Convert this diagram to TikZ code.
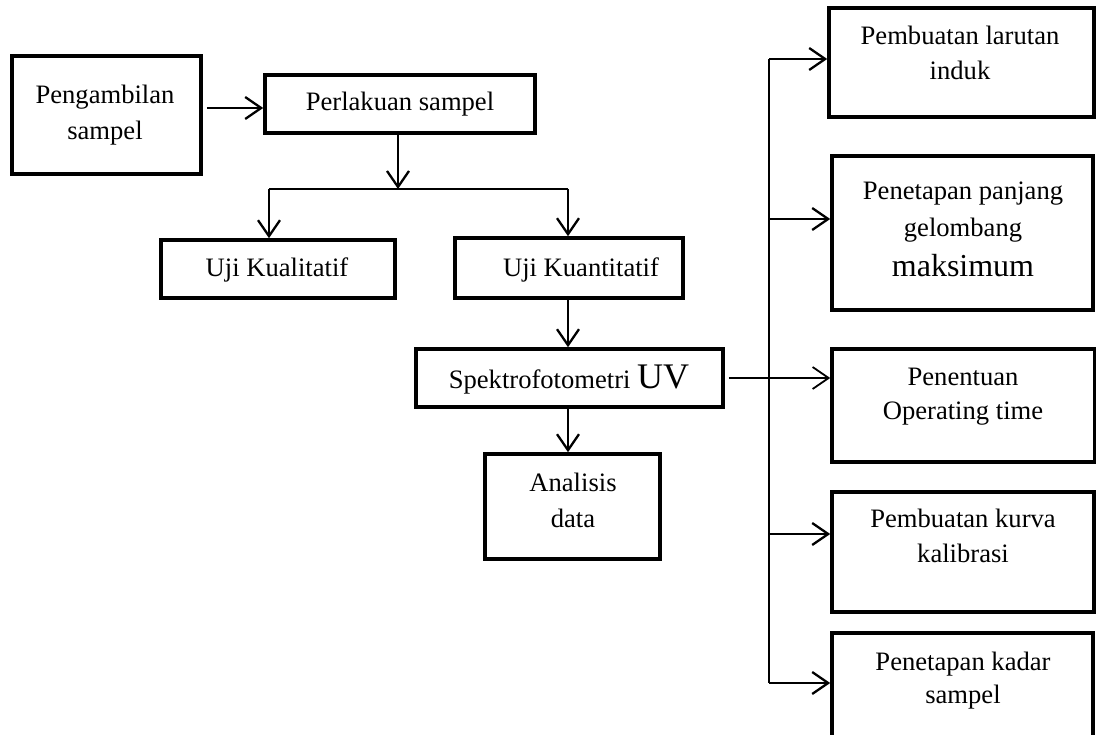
\documentclass[tikz,border=0pt]{standalone}
\usepackage{fontspec}
\setmainfont{Liberation Serif}
\usetikzlibrary{arrows.meta}
\begin{document}
\begin{tikzpicture}[x=1pt,y=-1pt,
  box/.style={draw, line width=3.6pt, inner sep=0pt},
  txt/.style={anchor=base, inner sep=0pt, font=\fontsize{26.6}{36}\selectfont},
  conn/.style={line width=2.3pt},
  arr/.style={line width=2.3pt, -{Straight Barb[length=16pt,width=22pt]}}]
\useasboundingbox (0,0) rectangle (1096,735);
\clip (0,0) rectangle (1096,735);
% boxes
\node[box, minimum width=189pt, minimum height=118pt] (peng) at (106.5,115) {};
\node[box, minimum width=270pt, minimum height=58pt] (perl) at (400,104) {};
\node[box, minimum width=234pt, minimum height=58pt] (kual) at (278,269) {};
\node[box, minimum width=228pt, minimum height=60pt] (kuan) at (569,268) {};
\node[box, minimum width=307pt, minimum height=58pt] (spek) at (569.5,378) {};
\node[box, minimum width=175pt, minimum height=105pt] (anal) at (572.5,506.5) {};
\node[box, minimum width=265pt, minimum height=109pt] (b1) at (961.5,62.5) {};
\node[box, minimum width=261pt, minimum height=154pt] (b2) at (962.5,233) {};
\node[box, minimum width=263pt, minimum height=113pt] (b3) at (963.5,405.5) {};
\node[box, minimum width=262pt, minimum height=120pt] (b4) at (963,552) {};
\node[box, minimum width=261pt, minimum height=122pt] (b5) at (962.5,694) {};
% texts
\node[txt] (t1a) at (105,104) {Pengambilan};
\node[txt] (t1b) at (105,140) {sampel};
\node[txt] (t2) at (400,111) {Perlakuan sampel};
\node[txt] (t3) at (277,277) {Uji Kualitatif};
\node[txt] (t4) at (581,277) {Uji Kuantitatif};
\node[txt] (t5) at (569,389) {Spektrofotometri {\fontsize{36}{36}\selectfont UV}};
\node[txt] (t6a) at (573,491) {Analisis};
\node[txt] (t6b) at (573,527) {data};
\node[txt] (t7a) at (960,45) {Pembuatan larutan};
\node[txt] (t7b) at (960,80) {induk};
\node[txt] (t8a) at (963,200) {Penetapan panjang};
\node[txt] (t8b) at (963,237) {gelombang};
\node[txt] (t8c) at (963,277) {\fontsize{32}{36}\selectfont maksimum};
\node[txt] (t9a) at (963,386) {Penentuan};
\node[txt] (t9b) at (963,420) {Operating time};
\node[txt] (t10a) at (963,527) {Pembuatan kurva};
\node[txt] (t10b) at (963,562) {kalibrasi};
\node[txt] (t11a) at (963,670) {Penetapan kadar};
\node[txt] (t11b) at (963,703) {sampel};
% connectors
\draw[arr] ([xshift=4pt,yshift=7pt]peng.east) -- ([yshift=7pt]peng.east -| perl.west);
\coordinate (split) at (398,189);
\coordinate (sL) at (269,189);
\coordinate (sR) at (568,189);
\draw[arr] (perl.south -| split) -- (split);
\draw[conn] (sL) -- (sR);
\draw[arr] (sL) -- (sL |- kual.north);
\draw[arr] (sR) -- (sR |- kuan.north);
\draw[arr] (kuan.south -| sR) -- (spek.north -| sR);
\draw[arr] (spek.south -| sR) -- (anal.north -| sR);
\draw[arr, line width=1.8pt] ([xshift=4pt]spek.east) -- (spek.east -| b3.west);
\coordinate (busT) at (769,59);
\coordinate (bus2) at (769,219);
\coordinate (bus4) at (769,534);
\coordinate (busB) at (769,683);
\draw[line width=2pt] (busT) -- (busB);
\draw[arr] (busT) -- (busT -| b1.west);
\draw[arr] (bus2) -- (bus2 -| b2.west);
\draw[arr] (bus4) -- (bus4 -| b4.west);
\draw[arr] (busB) -- (busB -| b5.west);
\end{tikzpicture}
\end{document}
